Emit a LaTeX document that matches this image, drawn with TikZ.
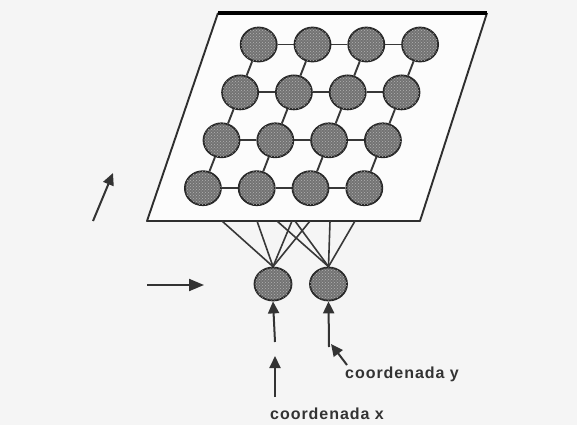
\documentclass[tikz,border=0pt]{standalone}
\usepackage{fontspec}
\setmainfont{Liberation Sans}
\usetikzlibrary{arrows.meta,patterns,shapes.geometric}
\pgfdeclarelayer{paper}
\pgfdeclarelayer{wires}
\pgfsetlayers{paper,wires,main}

\tikzset{
  neuron/.style={ellipse, minimum width=36pt, minimum height=34pt, inner sep=0pt,
    fill=black!55, draw=black!85, line width=1.8pt,
    postaction={pattern=crosshatch dots, pattern color=black!30}},
  link/.style={draw=black!78, line width=1.9pt},
  feed/.style={draw=black!78, line width=1.6pt},
  edge/.style={draw=black!82, line width=1.9pt},
  pointer/.style={draw=black!80, line width=2pt,
    -{Triangle[length=12pt,width=11pt]}},
  bigpointer/.style={draw=black!80, line width=2pt,
    -{Triangle[length=15pt,width=12pt]}},
  caption/.style={anchor=base west, inner sep=0pt,
    font=\fontsize{16}{18}\selectfont\bfseries\addfontfeature{LetterSpace=6}, text=black!80}
}

\begin{document}
\begin{tikzpicture}[x=1pt,y=-1pt]
  % page and the map plane
  \begin{pgfonlayer}{paper}
    \fill[black!4] (0,0) rectangle (577,425);
    \coordinate (tl) at (218,13);
    \coordinate (tr) at (487,13);
    \coordinate (br) at (420,221);
    \coordinate (bl) at (147,221);
    \fill[black!1] (tl) -- (tr) -- (br) -- (bl) -- cycle;
    \draw[edge, line join=round] (tr) -- (br) -- (bl) -- (tl);
    \draw[black, line width=3.5pt] (tl) -- (tr);
  \end{pgfonlayer}
  \useasboundingbox (0,0) rectangle (577,425);

  % 4x4 output layer
  \foreach \j in {0,...,3}{
    \foreach \i in {0,...,3}{
      \node[neuron] (g\i\j) at ({258.7+53.8*\i-18.6*\j},{44.5+47.9*\j}) {};
    }
  }
  \begin{pgfonlayer}{wires}
    \foreach \j in {0,...,3}{
      \foreach \i/\k in {0/1,1/2,2/3}{
        \draw[link] (g\i\j) -- (g\k\j);
      }
    }
    \foreach \i in {0,...,3}{
      \foreach \j/\k in {0/1,1/2,2/3}{
        \draw[link] (g\i\j) -- (g\i\k);
      }
    }
  \end{pgfonlayer}

  % input neurons
  \node[neuron, minimum width=37pt, minimum height=33pt] (n1) at (273,284) {};
  \node[neuron, minimum width=37pt, minimum height=33pt] (n2) at (328.5,284) {};

  % connections to the plane
  \begin{pgfonlayer}{wires}
    \foreach \x [count=\c] in {222,257,292,310}{
      \coordinate (a\c) at (\x,221);
      \draw[feed] (a\c) -- (n1.north);
    }
    \foreach \x [count=\c] in {277,295,330,355}{
      \coordinate (b\c) at (\x,221);
      \draw[feed] (b\c) -- (n2.north);
    }
  \end{pgfonlayer}

  % side arrows
  \coordinate (u0) at (93,221);
  \coordinate (u1) at (113,173);
  \draw[pointer] (u0) -- (u1);
  \coordinate (h0) at (147,285);
  \coordinate (h1) at (204,285);
  \draw[bigpointer] (h0) -- (h1);

  % inputs
  \coordinate (x0) at (275,342);
  \draw[pointer] (x0) -- (n1.south);
  \coordinate (y0) at (329,347);
  \draw[pointer] (y0) -- (n2.south);

  \node[caption] (cy) at (345,378) {coordenada y};
  \node[caption] (cx) at (270,419) {coordenada x};

  \coordinate (x1) at (275,356);
  \coordinate (x2) at (275,397);
  \draw[pointer] (x2) -- (x1);
  \coordinate (y1) at (347,365);
  \coordinate (y2) at (331,344);
  \draw[pointer] (y1) -- (y2);
\end{tikzpicture}
\end{document}
